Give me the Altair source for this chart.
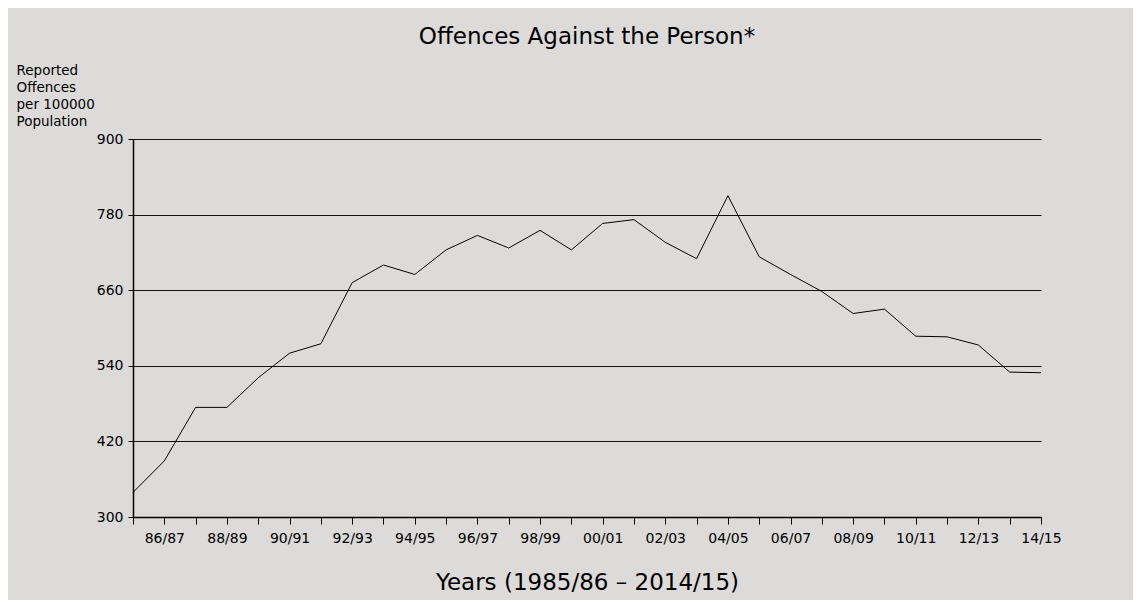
import altair as alt
import pandas as pd

years = ["85/86", "86/87", "87/88", "88/89", "89/90", "90/91", "91/92", "92/93",
         "93/94", "94/95", "95/96", "96/97", "97/98", "98/99", "99/00", "00/01",
         "01/02", "02/03", "03/04", "04/05", "05/06", "06/07", "07/08", "08/09",
         "09/10", "10/11", "11/12", "12/13", "13/14", "14/15"]
rates = [339, 389, 474, 474, 521, 560, 575, 672, 700, 685, 724, 747, 727, 755,
         724, 766, 772, 736, 710, 810, 713, 685, 658, 623, 630, 587, 586, 573,
         530, 529]
y_ticks = [300, 420, 540, 660, 780, 900]

df = pd.DataFrame({"year": years, "rate": rates})

FONT = "DejaVu Sans"

chart = alt.Chart(df).mark_line(color="#000000", strokeWidth=1).encode(
    x=alt.X(
        "year:N",
        sort=years,
        scale=alt.Scale(type="point", padding=0),
        axis=alt.Axis(
            title="Years (1985/86 \u2013 2014/15)",
            titleFont=FONT,
            titleFontSize=23,
            titleFontWeight="normal",
            titleColor="#000000",
            titlePadding=26,
            labelExpr="toNumber(substring(datum.value,0,2)) % 2 == 0 ? datum.value : ''",
            labelFont=FONT,
            labelFontSize=14,
            labelColor="#000000",
            labelAngle=0,
            labelOverlap=False,
            labelFlush=False,
            labelPadding=7,
            tickSize=7,
            tickColor="#000000",
            domainColor="#000000",
            domainWidth=1.5,
            grid=False,
        ),
    ),
    y=alt.Y(
        "rate:Q",
        scale=alt.Scale(domain=[300, 900], nice=False, zero=False),
        axis=alt.Axis(
            values=y_ticks,
            title=["Reported", "Offences", "per 100000", "Population"],
            titleFont=FONT,
            titleFontSize=13.5,
            titleFontWeight="normal",
            titleColor="#000000",
            titleAngle=0,
            titleAlign="left",
            titleBaseline="top",
            titleX=-117,
            titleY=-76,
            titleLineHeight=17,
            labelFont=FONT,
            labelFontSize=14,
            labelColor="#000000",
            labelPadding=5,
            tickSize=5,
            tickColor="#000000",
            domainColor="#000000",
            domainWidth=1.5,
            grid=True,
            gridColor="#111111",
            gridWidth=1,
            gridOpacity=1,
        ),
    ),
).properties(
    width=908,
    height=378,
    title=alt.TitleParams(
        text="Offences Against the Person*",
        font=FONT,
        fontSize=23,
        fontWeight="normal",
        color="#000000",
        anchor="middle",
        offset=14,
    ),
    autosize=alt.AutoSizeParams(type="none"),
    padding={"left": 125, "top": 131, "right": 92, "bottom": 83},
    background="#dcdbd9",
).configure_view(
    stroke=None,
)

chart.save("out.html", embed_options={"renderer": "svg", "actions": False})
